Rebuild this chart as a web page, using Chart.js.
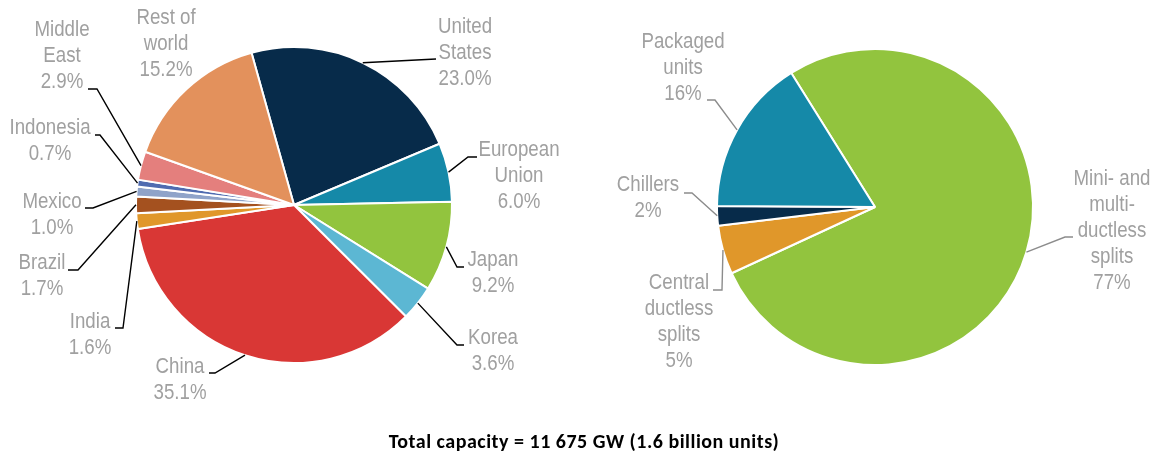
<!DOCTYPE html>
<html>
<head>
<meta charset="utf-8">
<script src="https://cdn.jsdelivr.net/npm/chart.js@4/dist/chart.umd.min.js"></script>
<style>
  body { margin: 0; background: #fff; width: 1157px; height: 454px; position: relative; overflow: hidden; }
  .box { position: absolute; top: 0; height: 454px; }
  #left { left: 0; width: 590px; }
  #right { left: 580px; width: 577px; }
  #total { position: absolute; left: 0; width: 1168px; top: 429px; text-align: center; letter-spacing: 0.5px;
           font: bold 20px Carlito, Lato, "Liberation Sans", sans-serif; color: #000; }
</style>
</head>
<body>
<div class="box" id="left"><canvas id="regionChart"></canvas></div>
<div class="box" id="right"><canvas id="typeChart"></canvas></div>
<div id="total">Total capacity = 11 675 GW (1.6 billion units)</div>
<script>
// ---- data ----
const regions = [["United", "States"], ["European", "Union"], ["Japan"], ["Korea"], ["China"],
  ["India"], ["Brazil"], ["Mexico"], ["Indonesia"], ["Middle", "East"], ["Rest of", "world"]];
const regionShares = [23.0, 6.0, 9.2, 3.6, 35.1, 1.6, 1.7, 1.0, 0.7, 2.9, 15.2];
const regionColors = ["#072b4a", "#1589a8", "#92c43e", "#5cb7d3", "#d93735", "#e0972a",
  "#a4511f", "#8fa3c9", "#4f6bb0", "#e47f7d", "#e3915c"];

const unitTypes = [["Mini- and", "multi-", "ductless", "splits"], ["Central", "ductless", "splits"],
  ["Chillers"], ["Packaged", "units"]];
const unitShares = [77, 5, 2, 16];
const unitColors = ["#92c43e", "#e0972a", "#072b4a", "#1589a8"];

// ---- label positions (text block + leader elbow), one per slice ----
const regionCallouts = [
  { x: 465, y: 27, pts: [[436, 59]] },
  { x: 519, y: 150, pts: [[477, 157], [468, 157]] },
  { x: 493, y: 260, pts: [[464, 267], [457, 267]] },
  { x: 493, y: 338, pts: [[464, 345], [457, 345]] },
  { x: 180, y: 367, pts: [[209, 373], [215, 373]] },
  { x: 90, y: 322, pts: [[115, 328], [123, 328]] },
  { x: 42, y: 263, pts: [[68, 270], [78, 270]] },
  { x: 52, y: 202, pts: [[85, 208], [93, 208]] },
  { x: 50, y: 128, pts: [[95, 135], [100, 135]] },
  { x: 62, y: 30, pts: [[88, 89], [97, 89]] },
  { x: 166, y: 18, pts: null }
];
const unitCallouts = [
  { x: 1112 - 580, y: 179, pts: [[1073 - 580, 237], [1065 - 580, 237]] },
  { x: 679 - 580, y: 283, pts: [[713 - 580, 290], [722 - 580, 290]] },
  { x: 648 - 580, y: 185, pts: [[684 - 580, 193], [692 - 580, 193]] },
  { x: 683 - 580, y: 42, pts: [[707 - 580, 100], [715 - 580, 100]] }
];

// ---- callout plugin ----
const calloutPlugin = {
  id: "callouts",
  afterDraw(chart, args, opts) {
    const ctx = chart.ctx;
    const meta = chart.getDatasetMeta(0);
    const values = chart.data.datasets[0].data;
    meta.data.forEach((arc, i) => {
      const c = opts.items[i];
      const lines = chart.data.labels[i].concat([values[i].toFixed(opts.decimals) + "%"]);
      // narrow face: Liberation Sans squeezed horizontally
      ctx.save();
      ctx.font = '22px "Liberation Sans", Arial, sans-serif';
      ctx.fillStyle = "#a0a0a0";
      ctx.textAlign = "center";
      ctx.textBaseline = "middle";
      ctx.translate(c.x, c.y);
      ctx.scale(0.85, 1);
      lines.forEach((t, k) => ctx.fillText(t, 0, k * 26));
      ctx.restore();
      if (c.pts) {
        const mid = (arc.startAngle + arc.endAngle) / 2;
        const ex = arc.x + Math.cos(mid) * arc.outerRadius;
        const ey = arc.y + Math.sin(mid) * arc.outerRadius;
        ctx.save();
        ctx.strokeStyle = opts.lineColor;
        ctx.lineWidth = 1.4;
        ctx.beginPath();
        ctx.moveTo(c.pts[0][0], c.pts[0][1]);
        c.pts.slice(1).forEach(p => ctx.lineTo(p[0], p[1]));
        ctx.lineTo(ex, ey);
        ctx.stroke();
        ctx.restore();
      }
    });
  }
};

function makePie(id, labels, values, colors, rotation, padding, callouts, decimals, lineColor) {
  return new Chart(document.getElementById(id), {
    type: "pie",
    data: {
      labels: labels,
      datasets: [{
        data: values,
        backgroundColor: colors,
        borderColor: "#ffffff",
        borderWidth: 2
      }]
    },
    options: {
      responsive: true,
      maintainAspectRatio: false,
      animation: false,
      rotation: rotation,
      layout: { padding: padding },
      plugins: {
        legend: { display: false },
        tooltip: { enabled: false },
        callouts: { items: callouts, decimals: decimals, lineColor: lineColor }
      }
    },
    plugins: [calloutPlugin]
  });
}

makePie("regionChart", regions, regionShares, regionColors, -15.6,
  { left: 135, right: 137, top: 46, bottom: 90 }, regionCallouts, 1, "#000000");
makePie("typeChart", unitTypes, unitShares, unitColors, -32,
  { left: 136, right: 123, top: 48, bottom: 88 }, unitCallouts, 0, "#8c8c8c");
</script>
</body>
</html>
